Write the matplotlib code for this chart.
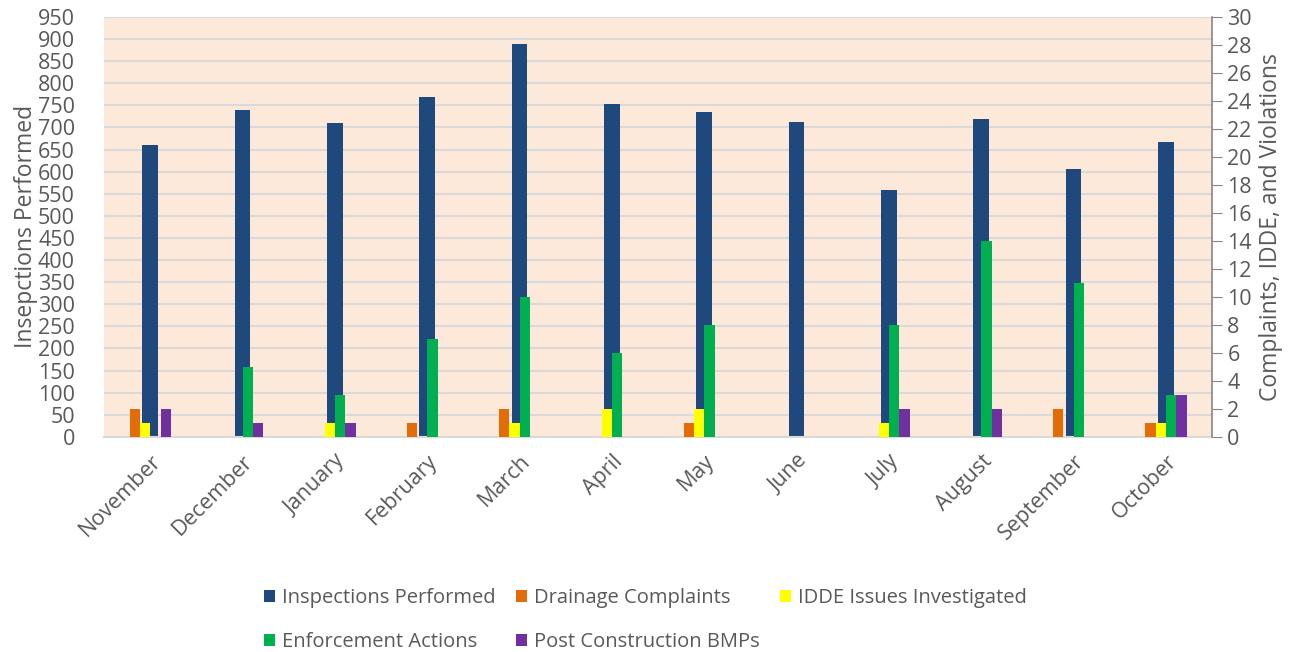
import matplotlib.pyplot as plt
import numpy as np

plt.rcParams['font.family'] = ['Open Sans', 'DejaVu Sans']

months = ["November", "December", "January", "February", "March", "April",
          "May", "June", "July", "August", "September", "October"]
inspections = [660, 740, 710, 770, 889, 754, 736, 712, 558, 720, 605, 668]
drainage = [2, 0, 0, 1, 2, 0, 1, 0, 0, 0, 2, 1]
idde = [1, 0, 1, 0, 1, 2, 2, 0, 1, 0, 0, 1]
enforcement = [0, 5, 3, 7, 10, 6, 8, 0, 8, 14, 11, 3]
post_bmps = [2, 1, 1, 0, 0, 0, 0, 0, 2, 2, 0, 3]

c_insp = "#1F497D"
c_drain = "#E36C09"
c_idde = "#FFFF00"
c_enf = "#00B050"
c_post = "#7030A0"
text_c = "#595959"
grid_c = "#D9D9D9"

x = np.arange(len(months))

fig = plt.figure(figsize=(13.04, 6.52), dpi=100)
ax1 = fig.add_axes([0.0798, 0.330, 0.8497, 0.644])
ax2 = ax1.twinx()

ax1.set_facecolor("#FDE9D9")
ax1.set_axisbelow(True)
ax1.yaxis.grid(True, color=grid_c, linewidth=1.5)

b_insp = ax1.bar(x, inspections, width=0.168, color=c_insp, zorder=2)

w = 0.112
b_drain = ax2.bar(x - 1.5 * w, drainage, width=w, color=c_drain)
b_idde = ax2.bar(x - 0.5 * w, idde, width=w, color=c_idde)
b_enf = ax2.bar(x + 0.5 * w, enforcement, width=w, color=c_enf)
b_post = ax2.bar(x + 1.5 * w, post_bmps, width=w, color=c_post)

ax1.set_xlim(-0.5, len(months) - 0.5)
ax1.set_ylim(0, 950)
ax1.set_yticks(np.arange(0, 951, 50))
ax2.set_ylim(0, 30)
ax2.set_yticks(np.arange(0, 31, 2))

for sp in ["top", "left", "right"]:
    ax1.spines[sp].set_visible(False)
ax1.spines["bottom"].set_color(grid_c)
ax1.spines["bottom"].set_linewidth(1.5)
for sp in ["top", "left", "bottom"]:
    ax2.spines[sp].set_visible(False)
ax2.spines["right"].set_color("#868686")
ax2.spines["right"].set_linewidth(1.2)

ax1.tick_params(axis="y", length=0, labelsize=15.5, labelcolor=text_c, pad=21)
ax1.tick_params(axis="x", length=0, labelsize=15.5, labelcolor=text_c, pad=10)
ax2.tick_params(axis="y", length=7, color="#868686", labelsize=15.5,
                labelcolor=text_c, pad=4)

ax1.set_xticks(x)
ax1.set_xticklabels(months, rotation=45, ha="right", rotation_mode="anchor")

ax1.set_ylabel("Insepctions Performed", fontsize=16.5, color=text_c, labelpad=0)
ax2.set_ylabel("Complaints, IDDE, and Violations", fontsize=16.5, color=text_c,
               labelpad=5)

handles = [b_insp, b_enf, b_drain, b_post, b_idde]
labels = ["Inspections Performed", "Enforcement Actions", "Drainage Complaints",
          "Post Construction BMPs", "IDDE Issues Investigated"]
leg = fig.legend(handles, labels, loc="lower center", bbox_to_anchor=(0.495, -0.028),
                 ncol=3, frameon=False, fontsize=14.5, labelcolor=text_c,
                 handlelength=0.55, handleheight=0.55, handletextpad=0.35,
                 labelspacing=1.2, columnspacing=1.0)

fig.savefig("out.png", dpi=100, facecolor="white")
